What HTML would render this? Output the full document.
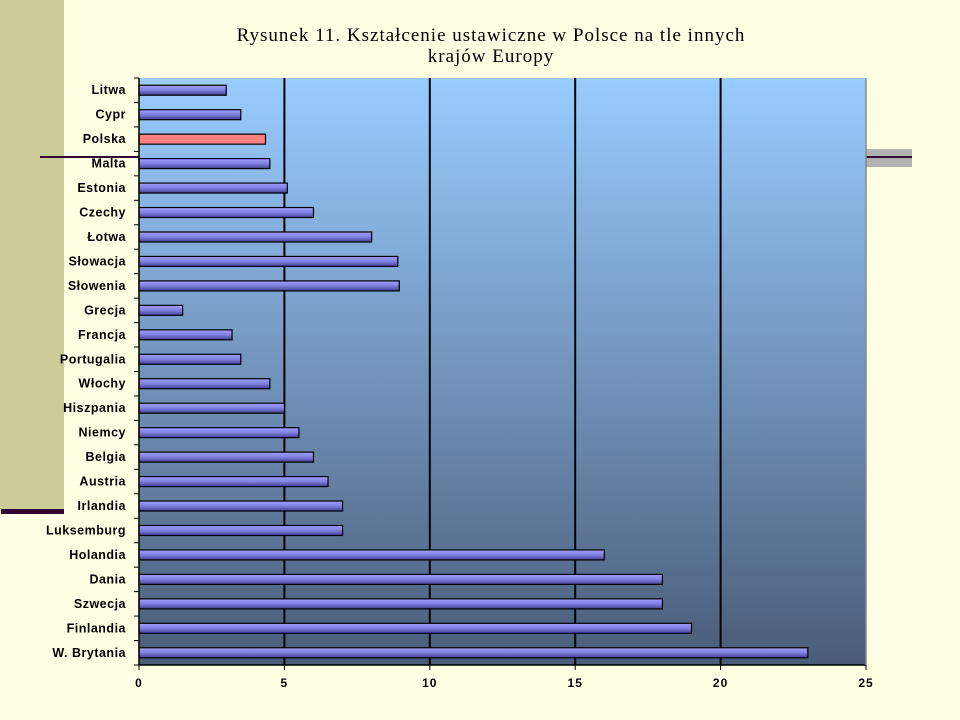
<!DOCTYPE html>
<html><head><meta charset="utf-8"><style>
body{margin:0;width:960px;height:720px;background:#FFFFE3;position:relative;overflow:hidden;font-family:"Liberation Sans",sans-serif}
</style></head><body>
<div style="position:absolute;left:0;top:0;width:64px;height:509px;background:#CCCC99"></div>
<div style="position:absolute;left:1px;top:509px;width:63px;height:5px;background:#330033"></div>
<div style="position:absolute;left:866px;top:149px;width:46px;height:18px;background:#B2B2B2"></div>
<svg width="960" height="720" style="position:absolute;left:0;top:0">
<defs>
<linearGradient id="bg" x1="0" y1="0" x2="0" y2="1"><stop offset="0" stop-color="#99CCFF"/><stop offset="1" stop-color="#4A5C78"/></linearGradient>
<linearGradient id="bar" x1="0" y1="0" x2="0" y2="1"><stop offset="0" stop-color="#A0A0FF"/><stop offset="0.5" stop-color="#8080E0"/><stop offset="1" stop-color="#404090"/></linearGradient>
</defs>
<line x1="40" y1="157" x2="139" y2="157" stroke="#330033" stroke-width="2"/>
<line x1="866" y1="157" x2="912" y2="157" stroke="#330033" stroke-width="2"/>
<text x="491" y="41" text-anchor="middle" font-family="Liberation Serif" font-size="19" letter-spacing="1">Rysunek 11. Kształcenie ustawiczne w Polsce na tle innych</text>
<text x="491" y="62" text-anchor="middle" font-family="Liberation Serif" font-size="19" letter-spacing="1">krajów Europy</text>
<rect x="139" y="78" width="727" height="587" fill="url(#bg)"/>
<g id="g"></g>
</svg>
<script>
const categories=["Litwa","Cypr","Polska","Malta","Estonia","Czechy","Łotwa","Słowacja","Słowenia","Grecja","Francja","Portugalia","Włochy","Hiszpania","Niemcy","Belgia","Austria","Irlandia","Luksemburg","Holandia","Dania","Szwecja","Finlandia","W. Brytania"];
const values=[3,3.5,4.35,4.5,5.1,6,8,8.9,8.95,1.5,3.2,3.5,4.5,5,5.5,6,6.5,7,7,16,18,18,19,23];
const ticks=[0,5,10,15,20,25];
const highlight="Polska";
const X0=139,X1=866,Y0=78,Y1=665,MAX=25;
const x=v=>X0+v/MAX*(X1-X0);
const band=(Y1-Y0)/categories.length;
const y=i=>Y0+band*(i+0.5);
const g=document.getElementById('g');
const NS="http://www.w3.org/2000/svg";
function mk(t,a){const e=document.createElementNS(NS,t);for(const k in a)e.setAttribute(k,a[k]);g.appendChild(e);return e;}
ticks.forEach(t=>{
 if(t>0&&t<MAX){const l=mk('line',{x1:x(t),y1:Y0,x2:x(t),y2:Y1,stroke:'#000','stroke-width':2});
 
 }
 const tk=mk('line',{x1:x(t),y1:Y1,x2:x(t),y2:Y1+5,stroke:'#000'});
 
 
 const tx=mk('text',{x:x(t),y:Y1+22,'text-anchor':'middle','font-size':12,'font-weight':'bold','letter-spacing':'1'});
 tx.textContent=t;
 
 
});
for(let i=0;i<=categories.length;i++){const tk=mk('line',{x1:X0-5,y1:Y0+band*i,x2:X0,y2:Y0+band*i,stroke:'#000'});
 
 }
categories.forEach((c,i)=>{
 const r=mk('rect',{x:X0,y:y(i)-5,width:x(values[i])-X0,height:10,fill:c===highlight?'#FF8080':'url(#bar)',stroke:'#000','stroke-width':1.2});
 
 
 const t=mk('text',{x:X0-13,y:y(i)+4,'text-anchor':'end','font-size':12.5,'font-weight':'bold','letter-spacing':'0.5'});
 t.textContent=c;
 
 
});
mk('line',{x1:X0,y1:Y0,x2:X0,y2:Y1,stroke:'#000','stroke-width':1.5});
mk('line',{x1:X0,y1:Y1,x2:X1,y2:Y1,stroke:'#000','stroke-width':1.5});
mk('line',{x1:X1,y1:Y0,x2:X1,y2:Y1,stroke:'#888','stroke-width':1.5});
</script>
</body></html>
